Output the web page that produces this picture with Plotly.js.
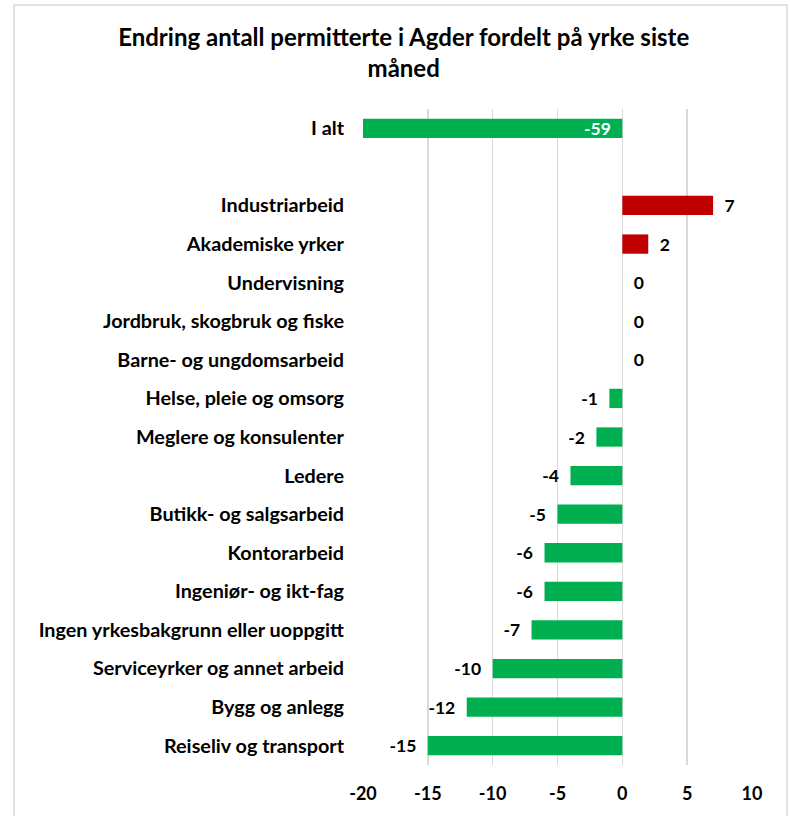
<!DOCTYPE html>
<html>
<head>
<meta charset="utf-8">
<script src="https://cdn.plot.ly/plotly-3.0.1.min.js"></script>
<style>html,body{margin:0;padding:0;background:#fff;}#chart{width:790px;height:816px;}</style>
</head>
<body>
<div id="chart"></div>
<script>
const categories = [
  "I alt", " ",
  "Industriarbeid", "Akademiske yrker", "Undervisning",
  "Jordbruk, skogbruk og fiske", "Barne- og ungdomsarbeid",
  "Helse, pleie og omsorg", "Meglere og konsulenter", "Ledere",
  "Butikk- og salgsarbeid", "Kontorarbeid", "Ingeniør- og ikt-fag",
  "Ingen yrkesbakgrunn eller uoppgitt", "Serviceyrker og annet arbeid",
  "Bygg og anlegg", "Reiseliv og transport"
];
const values = [-59, null, 7, 2, 0, 0, 0, -1, -2, -4, -5, -6, -6, -7, -10, -12, -15];
const xTicks = [-20, -15, -10, -5, 0, 5, 10];

const font = "Lato, 'Liberation Sans', sans-serif";
const pad = "\u00A0\u00A0";
const colors = values.map(v => (v !== null && v > 0) ? "#C00000" : "#00B050");
const positions = values.map((v, i) => v === null ? "none" : (i === 0 ? "inside" : "outside"));
const texts = values.map(v => v === null ? "" : (v < 0 ? String(v) + pad : pad + String(v)));

const trace = {
  type: "bar",
  orientation: "h",
  y: categories,
  x: values,
  width: 0.5,
  marker: {color: colors},
  text: texts,
  texttemplate: "%{text}",
  textposition: positions,
  insidetextanchor: "start",
  insidetextfont: {color: "#ffffff", size: 17.5, family: font, weight: "bold"},
  outsidetextfont: {color: "#000000", size: 17.5, family: font, weight: "bold"},
  cliponaxis: true,
  constraintext: "none",
  hoverinfo: "skip"
};

const layout = {
  width: 790, height: 816,
  margin: {l: 363, r: 38, t: 109, b: 51},
  paper_bgcolor: "#ffffff",
  plot_bgcolor: "#ffffff",
  showlegend: false,
  font: {family: font, color: "#000000"},
  title: {
    text: "Endring antall permitterte i Agder fordelt på yrke siste<br>måned",
    font: {family: font, size: 24, weight: "bold", color: "#000000"},
    x: 0.511, xanchor: "center",
    y: 0.944, yanchor: "top"
  },
  xaxis: {
    range: [-20, 10],
    tickvals: xTicks,
    ticktext: xTicks.map(String),
    showgrid: true,
    gridcolor: "#d9d9d9",
    gridwidth: 1.5,
    zeroline: false,
    showline: false,
    ticks: "",
    ticklabelstandoff: 16,
    tickfont: {family: font, size: 18, weight: "bold", color: "#000000"},
    fixedrange: true
  },
  yaxis: {
    type: "category",
    categoryorder: "array",
    categoryarray: categories,
    autorange: "reversed",
    showgrid: false,
    zeroline: false,
    showline: false,
    ticks: "",
    ticklabelstandoff: 18,
    tickfont: {family: font, size: 19.8, weight: "bold", color: "#000000"},
    fixedrange: true
  },
  shapes: [{
    type: "rect", xref: "paper", yref: "paper",
    x0: -0.897, x1: 1.090, y0: -0.09, y1: 1.1585,
    line: {color: "#d9d9d9", width: 1.5},
    fillcolor: "rgba(0,0,0,0)",
    layer: "below"
  }]
};

Plotly.newPlot("chart", [trace], layout, {staticPlot: true, displayModeBar: false});
</script>
</body>
</html>
